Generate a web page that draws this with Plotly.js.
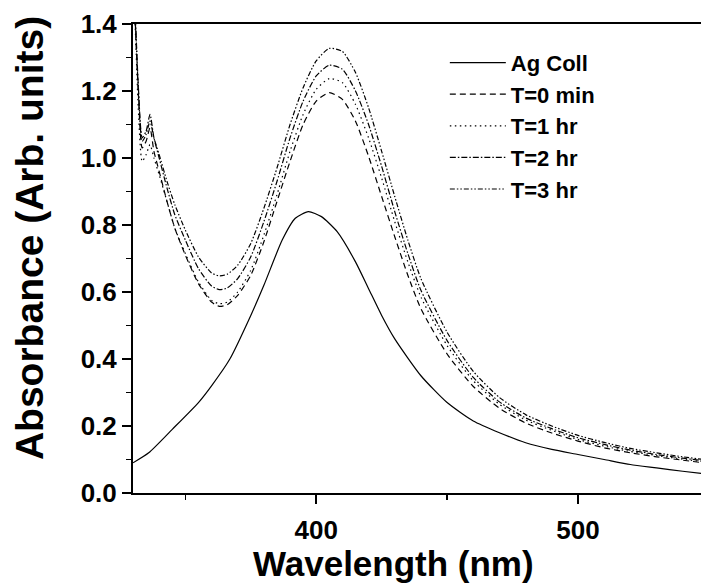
<!DOCTYPE html>
<html>
<head>
<meta charset="utf-8">
<script src="https://cdn.plot.ly/plotly-3.0.1.min.js"></script>
<style>html,body{margin:0;padding:0;background:#fff;}#chart{width:701px;height:586px;}</style>
</head>
<body>
<div id="chart"></div>
<script>
// Wavelength (nm) samples
const wlAg = [330, 336, 345, 355, 360, 367, 375, 380, 387, 392, 397, 402, 408, 415, 420, 425, 430, 440, 450, 460, 470, 480, 490, 500, 510, 520, 530, 540, 548];
const absAg = [0.09, 0.12, 0.19, 0.27, 0.32, 0.40, 0.53, 0.62, 0.755, 0.82, 0.84, 0.825, 0.78, 0.69, 0.61, 0.53, 0.46, 0.35, 0.27, 0.215, 0.18, 0.15, 0.13, 0.115, 0.10, 0.085, 0.075, 0.065, 0.058];

const wlT = [330, 331, 332, 333.5, 335, 336.5, 338, 340, 343, 346, 350, 355, 360, 363, 366, 370, 375, 380, 385, 390, 395, 400, 405, 410, 415, 420, 425, 430, 435, 440, 450, 460, 470, 480, 490, 500, 510, 520, 530, 540, 548];
const absT0 = [1.55, 1.38, 1.20, 1.03, 1.05, 1.09, 1.02, 0.96, 0.87, 0.79, 0.71, 0.625, 0.57, 0.557, 0.562, 0.59, 0.65, 0.75, 0.87, 0.99, 1.10, 1.17, 1.195, 1.175, 1.11, 1.005, 0.885, 0.765, 0.65, 0.55, 0.415, 0.318, 0.253, 0.209, 0.179, 0.155, 0.135, 0.12, 0.108, 0.098, 0.09];
const absT1 = [1.55, 1.36, 1.15, 0.99, 1.01, 1.04, 1.00, 0.95, 0.87, 0.79, 0.715, 0.63, 0.575, 0.565, 0.57, 0.60, 0.665, 0.77, 0.89, 1.02, 1.13, 1.205, 1.237, 1.225, 1.16, 1.06, 0.94, 0.81, 0.69, 0.585, 0.44, 0.335, 0.265, 0.218, 0.187, 0.16, 0.14, 0.124, 0.112, 0.101, 0.093];
const absT2 = [1.55, 1.40, 1.22, 1.06, 1.08, 1.13, 1.06, 1.00, 0.91, 0.83, 0.755, 0.67, 0.618, 0.607, 0.612, 0.64, 0.705, 0.81, 0.93, 1.06, 1.17, 1.245, 1.277, 1.265, 1.20, 1.10, 0.975, 0.84, 0.715, 0.605, 0.455, 0.345, 0.272, 0.224, 0.192, 0.165, 0.145, 0.128, 0.115, 0.104, 0.096];
const absT3 = [1.55, 1.39, 1.21, 1.05, 1.07, 1.11, 1.06, 1.01, 0.93, 0.86, 0.785, 0.705, 0.657, 0.648, 0.653, 0.68, 0.745, 0.85, 0.97, 1.10, 1.21, 1.29, 1.327, 1.318, 1.255, 1.15, 1.02, 0.885, 0.755, 0.64, 0.48, 0.363, 0.285, 0.234, 0.2, 0.172, 0.151, 0.133, 0.12, 0.108, 0.1];

const seriesNames = ["Ag Coll", "T=0 min", "T=1 hr", "T=2 hr", "T=3 hr"];
const xTickVals = [400, 500];
const xTickText = ["400", "500"];
const yTickVals = [0.0, 0.2, 0.4, 0.6, 0.8, 1.0, 1.2, 1.4];
const yTickText = ["0.0", "0.2", "0.4", "0.6", "0.8", "1.0", "1.2", "1.4"];

const dashes = ["solid", "6px,4px", "1.5px,3.5px", "6px,2px,1.5px,2px", "5px,2px,1.5px,2px,1.5px,2px"];
const xs = [wlAg, wlT, wlT, wlT, wlT];
const ys = [absAg, absT0, absT1, absT2, absT3];

const FONT = "Liberation Sans, Arial, sans-serif";

const traces = seriesNames.map((n, i) => ({
  type: "scatter",
  mode: "lines",
  name: n,
  x: xs[i],
  y: ys[i],
  line: {color: "#000", width: 1.2, dash: dashes[i], shape: "spline", smoothing: 0.6}
}));

const layout = {
  width: 701,
  height: 586,
  margin: {l: 133, r: 0, t: 24, b: 93},
  paper_bgcolor: "#fff",
  plot_bgcolor: "#fff",
  showlegend: true,
  legend: {
    x: 0.549, y: 0.962, xanchor: "left", yanchor: "top",
    font: {family: FONT, size: 22, color: "#000", weight: "bold"},
    bgcolor: "rgba(0,0,0,0)",
    itemwidth: 56,
    tracegroupgap: 0
  },
  xaxis: {
    range: [330, 547],
    tickmode: "array",
    tickvals: xTickVals,
    ticktext: xTickText,
    ticks: "outside",
    ticklen: 9,
    tickwidth: 1.5,
    tickcolor: "#000",
    ticklabelstandoff: 4,
    showline: true,
    linewidth: 2,
    linecolor: "#000",
    mirror: true,
    showgrid: false,
    zeroline: false,
    tickfont: {family: FONT, size: 26, color: "#000", weight: "bold"},
    minor: {dtick: 50, tick0: 0, ticks: "outside", ticklen: 5, tickwidth: 1.5, tickcolor: "#000", showgrid: false}
  },
  yaxis: {
    range: [0, 1.4],
    tickmode: "array",
    tickvals: yTickVals,
    ticktext: yTickText,
    ticks: "outside",
    ticklen: 9,
    tickwidth: 1.5,
    tickcolor: "#000",
    showline: true,
    linewidth: 2,
    linecolor: "#000",
    mirror: false,
    showgrid: false,
    zeroline: false,
    tickfont: {family: FONT, size: 26, color: "#000", weight: "bold"},
    minor: {dtick: 0.1, tick0: 0, ticks: "outside", ticklen: 5, tickwidth: 1.5, tickcolor: "#000", showgrid: false}
  },
  annotations: [
    {text: "Wavelength (nm)", xref: "paper", yref: "paper", x: 0.458, y: -0.151, xanchor: "center", yanchor: "middle", showarrow: false,
     font: {family: FONT, size: 35, color: "#000", weight: "bold"}},
    {text: "Absorbance (Arb. units)", xref: "paper", yref: "paper", x: -0.181, y: 0.544, xanchor: "center", yanchor: "middle", showarrow: false, textangle: -90,
     font: {family: FONT, size: 39, color: "#000", weight: "bold"}}
  ]
};

Plotly.newPlot("chart", traces, layout, {displayModeBar: false, staticPlot: true});
</script>
</body>
</html>
